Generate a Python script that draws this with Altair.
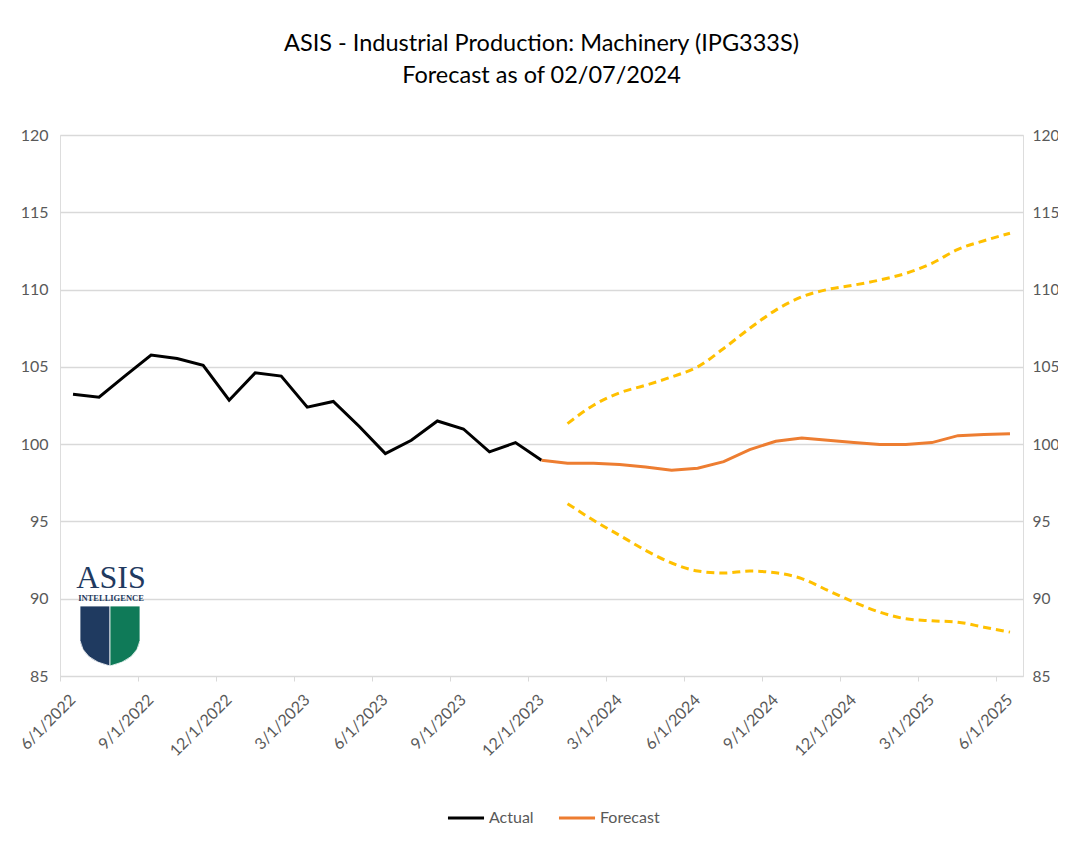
import altair as alt
import pandas as pd

# ---- data -------------------------------------------------------------
months = [
    "6/1/2022", "7/1/2022", "8/1/2022", "9/1/2022", "10/1/2022", "11/1/2022",
    "12/1/2022", "1/1/2023", "2/1/2023", "3/1/2023", "4/1/2023", "5/1/2023",
    "6/1/2023", "7/1/2023", "8/1/2023", "9/1/2023", "10/1/2023", "11/1/2023",
    "12/1/2023", "1/1/2024", "2/1/2024", "3/1/2024", "4/1/2024", "5/1/2024",
    "6/1/2024", "7/1/2024", "8/1/2024", "9/1/2024", "10/1/2024", "11/1/2024",
    "12/1/2024", "1/1/2025", "2/1/2025", "3/1/2025", "4/1/2025", "5/1/2025",
    "6/1/2025",
]
tick_labels = [
    "6/1/2022", "9/1/2022", "12/1/2022", "3/1/2023", "6/1/2023", "9/1/2023",
    "12/1/2023", "3/1/2024", "6/1/2024", "9/1/2024", "12/1/2024", "3/1/2025",
    "6/1/2025",
]

# Actual: 6/1/2022 .. 12/1/2023
actual = [103.23, 103.04, 104.42, 105.76, 105.54, 105.10, 102.84, 104.61,
          104.40, 102.39, 102.76, 101.14, 99.39, 100.25, 101.50, 100.98,
          99.50, 100.10, 98.96]
# Forecast: 12/1/2023 .. 6/1/2025
forecast = [98.96, 98.77, 98.77, 98.68, 98.52, 98.31, 98.44, 98.87, 99.65,
            100.19, 100.40, 100.25, 100.10, 99.97, 99.97, 100.10, 100.55,
            100.62, 100.68]
# Bounds: 1/1/2024 .. 6/1/2025
upper = [101.33, 102.52, 103.32, 103.81, 104.35, 105.00, 106.19, 107.49,
         108.67, 109.53, 110.01, 110.29, 110.62, 111.05, 111.70, 112.60,
         113.16, 113.64]
lower = [96.15, 95.07, 94.10, 93.13, 92.31, 91.79, 91.66, 91.79, 91.68,
         91.30, 90.54, 89.78, 89.13, 88.70, 88.57, 88.48, 88.16, 87.84]

series_names = ["Actual", "Forecast"]
series_colors = ["#000000", "#ED7D31"]
y_ticks = [85, 90, 95, 100, 105, 110, 115, 120]

# ---- tables -----------------------------------------------------------
n_act = len(actual)
lines_df = pd.DataFrame({
    "month": months[:n_act] + months[n_act - 1:n_act - 1 + len(forecast)],
    "value": actual + forecast,
    "series": ["Actual"] * n_act + ["Forecast"] * len(forecast),
})
start_b = len(months) - len(upper)
bounds_df = pd.DataFrame({
    "month": months[start_b:],
    "upper": upper,
    "lower": lower,
})

FONT = "Lato"
GRAY_TXT = "#595959"
GRID = "#D9D9D9"
PLOT_W = 963

x_enc = alt.X(
    "month:O",
    scale=alt.Scale(type="band", domain=months, paddingInner=0, paddingOuter=0),
    axis=alt.Axis(
        values=tick_labels, title=None, grid=False, bandPosition=0,
        domainColor=GRID, tickColor=GRID, tickSize=5, ticks=True,
        labelAngle=315, labelAlign="right", labelBaseline="middle",
        labelPadding=16, labelOffset=0, labelFontSize=16,
        labelColor=GRAY_TXT, labelFont=FONT,
    ),
)
y_scale = alt.Scale(domain=[85, 120], nice=False, zero=False)

left_axis = alt.Axis(
    values=y_ticks, title=None, grid=True,
    gridColor=GRID, gridWidth=1.5, domain=False, ticks=False,
    labelPadding=12, labelFontSize=16, labelColor=GRAY_TXT, labelFont=FONT,
)
right_axis = alt.Axis(
    values=y_ticks, title=None, grid=False,
    orient="right", domain=False, ticks=False,
    labelPadding=9, labelFontSize=15.5, labelColor=GRAY_TXT, labelFont=FONT,
)

main = alt.Chart(lines_df).mark_line(strokeWidth=3).encode(
    x=x_enc,
    y=alt.Y("value:Q", scale=y_scale, axis=left_axis),
    color=alt.Color(
        "series:N",
        scale=alt.Scale(domain=series_names, range=series_colors),
        legend=alt.Legend(
            title=None, orient="none", direction="horizontal",
            legendX=386, legendY=663, symbolType="stroke",
            symbolSize=1300, symbolStrokeWidth=3, labelFontSize=16,
            labelColor=GRAY_TXT, labelFont=FONT, columnPadding=18,
            labelOffset=3,
        ),
    ),
)

up = alt.Chart(bounds_df).mark_line(
    strokeWidth=3, color="#FFC000", strokeDash=[8, 5], interpolate="monotone"
).encode(
    x=x_enc,
    y=alt.Y("upper:Q", scale=y_scale, axis=right_axis),
)
lo = alt.Chart(bounds_df).mark_line(
    strokeWidth=3, color="#FFC000", strokeDash=[8, 5], interpolate="monotone"
).encode(
    x=x_enc,
    y=alt.Y("lower:Q", scale=y_scale, axis=None),
)

# ---- logo (decoration) ------------------------------------------------
logo_df = pd.DataFrame({"a": [0]})
left_half = "M 0 -1 L -1 -1 L -1 0.15 Q -0.9 0.8 0 1 Z"
right_half = "M 0 -1 L 1 -1 L 1 0.15 Q 0.9 0.8 0 1 Z"
shield_l = alt.Chart(logo_df).mark_point(
    shape=left_half, filled=True, size=3600, color="#1F3A60", opacity=1,
    stroke="white", strokeWidth=0.8,
).encode(x=alt.value(50), y=alt.value(501))
shield_r = alt.Chart(logo_df).mark_point(
    shape=right_half, filled=True, size=3600, color="#0F7A58", opacity=1,
    stroke="white", strokeWidth=0.8,
).encode(x=alt.value(50), y=alt.value(501))
logo_txt = alt.Chart(logo_df).mark_text(
    text="ASIS", font="Liberation Serif", fontSize=32, color="#1F3A60",
    align="center", baseline="alphabetic",
).encode(x=alt.value(51), y=alt.value(453))
logo_sub = alt.Chart(logo_df).mark_text(
    text="INTELLIGENCE", font="Liberation Serif", fontSize=8.5,
    color="#1F3A60", align="center", baseline="alphabetic", fontWeight="bold",
).encode(x=alt.value(51), y=alt.value(466))

chart = alt.layer(
    main, lo, up, shield_l, shield_r, logo_txt, logo_sub
).resolve_axis(y="independent").properties(
    width=PLOT_W,
    height=541,
    autosize=alt.AutoSizeParams(type="none"),
    padding={"left": 52, "top": 127, "right": 35, "bottom": 154},
    title=alt.Title(
        ["ASIS - Industrial Production: Machinery (IPG333S)",
         "Forecast as of 02/07/2024"],
        font=FONT, fontSize=23.5, fontWeight="normal", color="#000000",
        lineHeight=32, anchor="middle", offset=40,
    ),
).configure_view(
    stroke=GRID, strokeWidth=1.5
).configure(background="white")

chart.save("out.html", embed_options={"renderer": "svg", "actions": False})
